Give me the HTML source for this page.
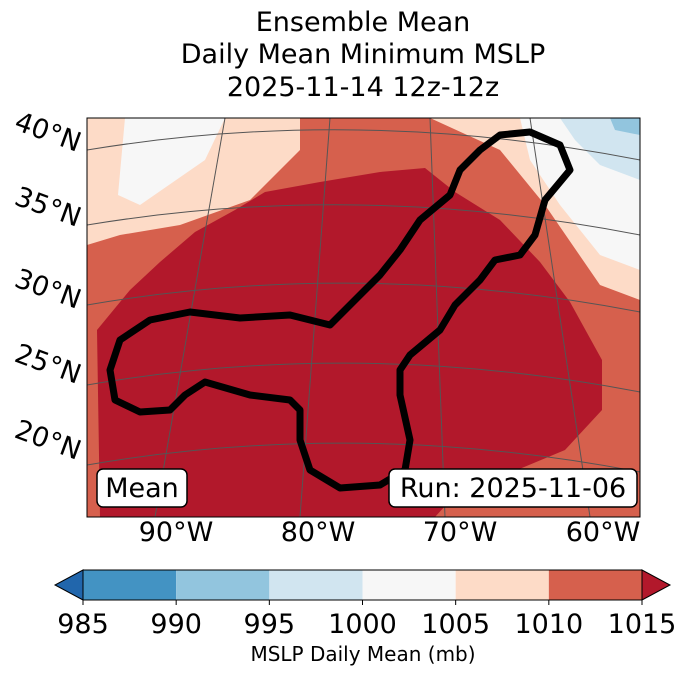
<!DOCTYPE html>
<html><head><meta charset="utf-8">
<style>
body{margin:0;background:#fff;}
svg text{font-family:"DejaVu Sans","Liberation Sans",sans-serif;text-anchor:middle;}
</style></head>
<body>
<svg width="688" height="674" viewBox="0 0 688 674" xmlns="http://www.w3.org/2000/svg">
<g fill="#000" font-size="27">
<text x="363" y="31">Ensemble Mean</text>
<text x="363" y="63">Daily Mean Minimum MSLP</text>
<text x="363" y="96">2025-11-14 12z-12z</text>
</g>
<defs><clipPath id="mc"><rect x="87" y="118" width="553" height="399"/></clipPath></defs>
<g clip-path="url(#mc)">
<rect x="87" y="118" width="553" height="399" fill="#d6604d"/>
<polygon fill="#fddbc7" points="87,118 300,118 300,150 250,200 180,225 120,235 87,245"/>
<polygon fill="#f7f7f7" points="125,118 225,118 205,160 140,205 118,195"/>
<polygon fill="#fddbc7" points="430,118 640,118 640,300 600,285 545,205 500,150"/>
<polygon fill="#f7f7f7" points="520,118 640,118 640,270 600,255 560,205 530,160"/>
<polygon fill="#d1e5f0" points="560,118 640,118 640,180 600,165 575,140"/>
<polygon fill="#92c5de" points="610,118 640,118 640,135 615,130"/>
<polygon fill="#b2182b" points="100,517 97,330 130,290 160,262 195,232 235,210 265,192 320,182 380,172 425,168 455,192 500,220 540,262 570,302 602,360 602,410 565,450 505,475 455,495 435,517"/>
<g stroke="#555" stroke-width="1" fill="none">
<path d="M87,150 Q360,105 640,160"/>
<path d="M87,225 Q360,180 640,235"/>
<path d="M87,305 Q360,258 640,312"/>
<path d="M87,385 Q360,338 640,392"/>
<path d="M87,465 Q360,418 640,472"/>
<path d="M155,517 L225,118"/>
<path d="M300,517 L330,118"/>
<path d="M445,517 L430,118"/>
<path d="M590,517 L530,118"/>
</g>
<path fill="none" stroke="#000" stroke-width="7" stroke-linejoin="round" d="M530,132 L560,145 L570,170 L545,200 L535,235 L520,255 L495,260 L480,280 L455,305 L440,330 L410,355 L400,370 L400,395 L410,440 L405,470 L380,485 L340,488 L310,470 L300,440 L300,410 L290,400 L250,395 L205,382 L185,395 L170,410 L140,412 L115,400 L110,370 L120,340 L150,320 L190,312 L240,318 L290,315 L330,325 L350,305 L380,275 L400,250 L420,220 L450,195 L460,170 L480,150 L500,135 Z"/>
</g>
<rect x="87" y="118" width="553" height="399" fill="none" stroke="#000" stroke-width="1"/>
<g font-size="27">
<text x="48" y="141" transform="rotate(20 48 132)">40°N</text>
<text x="48" y="216" transform="rotate(20 48 207)">35°N</text>
<text x="48" y="298" transform="rotate(20 48 289)">30°N</text>
<text x="48" y="373" transform="rotate(20 48 364)">25°N</text>
<text x="48" y="449" transform="rotate(20 48 440)">20°N</text>
</g>
<g font-size="27">
<text x="176" y="541">90°W</text><text x="318" y="541">80°W</text><text x="460" y="541">70°W</text><text x="603" y="541">60°W</text>
</g>
<g>
<rect x="97" y="469" width="90" height="38" rx="6" fill="#fff" stroke="#000" stroke-width="1.5"/>
<text x="142" y="497" font-size="27">Mean</text></g>
<g>
<rect x="389" y="469" width="248" height="38" rx="6" fill="#fff" stroke="#000" stroke-width="1.5"/>
<text x="513" y="497" font-size="27">Run: 2025-11-06</text></g>
<g id="cb"></g>
<text x="363" y="661" font-size="20">MSLP Daily Mean (mb)</text>
</svg>
<script>
const levels=[985,990,995,1000,1005,1010,1015];
const colors=["#4393c3","#92c5de","#d1e5f0","#f7f7f7","#fddbc7","#d6604d"];
const tickLabels=["985","990","995","1000","1005","1010","1015"];
const ns="http://www.w3.org/2000/svg",g=document.getElementById("cb");
const x0=83,x1=642,y0=570,h=30;
const sx=v=>x0+(v-levels[0])/(levels[levels.length-1]-levels[0])*(x1-x0);
function mk(t,a){const e=document.createElementNS(ns,t);for(const k in a)e.setAttribute(k,a[k]);g.appendChild(e);return e;}
let e=mk("polygon",{points:`${x0},${y0} ${x0},${y0+h} 55,${y0+h/2}`,fill:"#2166ac",stroke:"#000","stroke-width":1});


e=mk("polygon",{points:`${x1},${y0} ${x1},${y0+h} 670,${y0+h/2}`,fill:"#b2182b",stroke:"#000","stroke-width":1});


for(let i=0;i<colors.length;i++){
 e=mk("rect",{x:sx(levels[i]),y:y0,width:sx(levels[i+1])-sx(levels[i]),height:h,fill:colors[i]});
 
 
}
e=mk("rect",{x:x0,y:y0,width:x1-x0,height:h,fill:"none",stroke:"#000","stroke-width":1});


levels.forEach((v,i)=>{
 const l=mk("line",{x1:sx(v),x2:sx(v),y1:y0+h,y2:y0+h+5,stroke:"#000"});
 
 
 const t=mk("text",{x:sx(v),y:633,"font-size":27});
 t.textContent=tickLabels[i];
 
 
});
</script>
</body></html>
